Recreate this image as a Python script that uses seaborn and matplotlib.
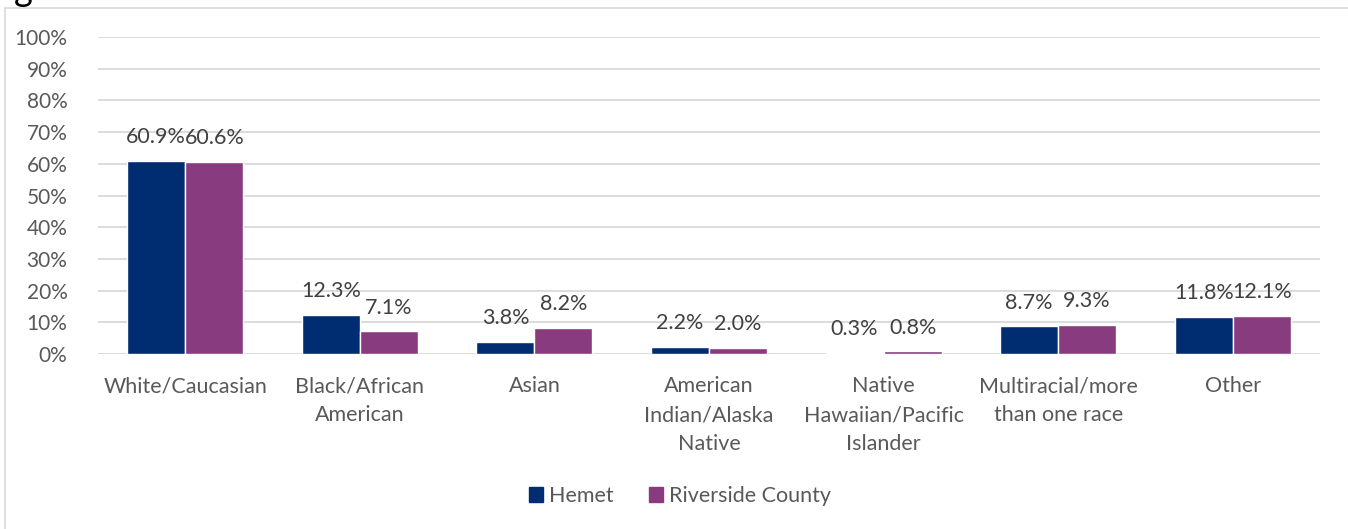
import matplotlib
matplotlib.use("Agg")
import matplotlib.pyplot as plt
import seaborn as sns
import pandas as pd

categories = ["White/Caucasian", "Black/African\nAmerican", "Asian",
              "American\nIndian/Alaska\nNative", "Native\nHawaiian/Pacific\nIslander",
              "Multiracial/more\nthan one race", "Other"]
hemet = [60.9, 12.3, 3.8, 2.2, 0.3, 8.7, 11.8]
riverside = [60.6, 7.1, 8.2, 2.0, 0.8, 9.3, 12.1]
series = ["Hemet", "Riverside County"]
colors = ["#002D72", "#893B80"]
yticks = list(range(0, 101, 10))

df = pd.DataFrame({
    "category": categories * 2,
    "value": hemet + riverside,
    "series": [series[0]] * len(categories) + [series[1]] * len(categories),
})

sns.set_theme(style="white")
plt.rcParams["font.family"] = ["Lato", "DejaVu Sans"]
text_color = "#595959"

fig = plt.figure(figsize=(13.48, 5.29), dpi=100)
ax = fig.add_axes([98 / 1348, 1 - 354 / 529, (1320 - 98) / 1348, (354 - 37) / 529])

sns.barplot(data=df, x="category", y="value", hue="series", order=categories,
            hue_order=series, palette=colors, width=0.665, saturation=1,
            ax=ax, zorder=3, legend=False)

for cont in ax.containers:
    ax.bar_label(cont, labels=[f"{v:.1f}%" for v in cont.datavalues],
                 padding=10, fontsize=15.5, color="#404040")

ax.set_ylim(0, 100)
ax.set_xlim(-0.5, len(categories) - 0.5)
ax.set_yticks(yticks)
ax.set_yticklabels([f"{t}%" for t in yticks], fontsize=15, color=text_color)
ax.set_xticks(range(len(categories)))
ax.set_xticklabels(categories, fontsize=15.5, color=text_color, linespacing=1.55)
ax.tick_params(axis="x", length=0, pad=16)
ax.tick_params(axis="y", length=0, pad=22)
ax.grid(axis="y", color="#D9D9D9", linewidth=1.3, zorder=0)
ax.set_xlabel("")
ax.set_ylabel("")
for s in ax.spines.values():
    s.set_visible(False)

handles = [plt.Rectangle((0, 0), 1, 1, color=c) for c in colors]
fig.legend(handles, series, loc="center", bbox_to_anchor=(680 / 1348, 1 - 496 / 529),
           ncol=2, frameon=False, fontsize=15.5, handlelength=0.65, handleheight=0.65,
           handletextpad=0.3, columnspacing=1.6, labelcolor=text_color)

# outer chart border
border = plt.Rectangle((5 / 1348, -0.05), 1.05, 1 - 8 / 529 + 0.05, transform=fig.transFigure,
                       fill=False, edgecolor="#D9D9D9", linewidth=1.2)
fig.patches.append(border)

# remnant of the title cut off above the chart
fig.text(14 / 1348, 1 + 26 / 529, "g", fontsize=26, color="black", va="top", ha="left")

fig.savefig("out.png", dpi=100)
